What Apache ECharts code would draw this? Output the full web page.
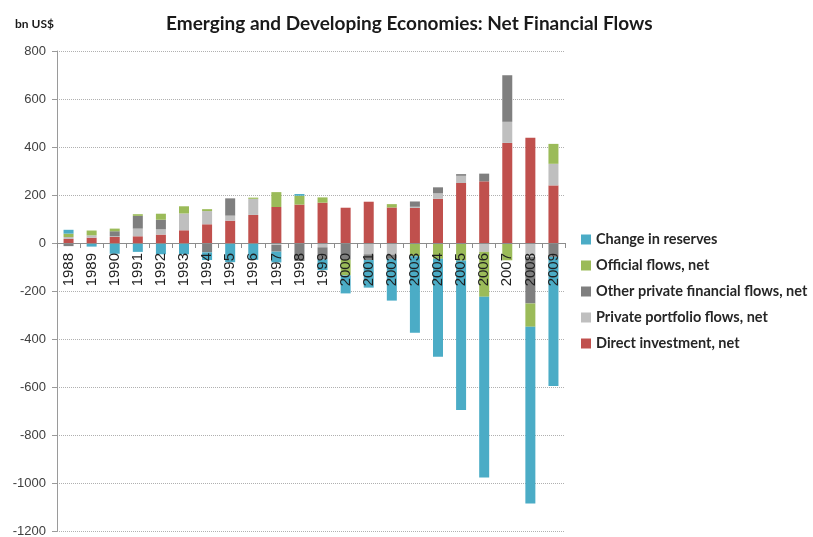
<!DOCTYPE html>
<html>
<head>
<meta charset="utf-8">
<script src="https://cdn.jsdelivr.net/npm/echarts@6/dist/echarts.min.js"></script>
<style>
  html, body { margin: 0; padding: 0; background: #fff; }
  #chart { width: 813px; height: 537px; }
</style>
</head>
<body>
<div id="chart"></div>
<script>
// Net financial flows of emerging and developing economies, bn US$
const years = ['1988','1989','1990','1991','1992','1993','1994','1995','1996','1997','1998',
               '1999','2000','2001','2002','2003','2004','2005','2006','2007','2008','2009'];

const directInvestment = [17, 22, 25, 28, 35, 53, 78, 93, 117, 150, 160,
                          168, 147, 172, 148, 146, 184, 250, 257, 417, 439, 240];
const portfolioFlows   = [8, 10, 3, 32, 22, 70, 55, 21, 67, -8, 0,
                          -18, 0, -47, -48, 5, 23, 30, -37, 88, -58, 90];
const otherPrivate     = [-13, 0, 21, 53, 40, 0, -39, 72, 0, -28, -75,
                          -50, -70, -24, -18, 22, 25, 7, 32, 194, -194, -58];
const officialFlows    = [14, 20, 11, 7, 25, 30, 8, 0, 5, 62, 37,
                          22, -65, 0, 14, -55, -66, -73, -187, -72, -97, 83];
const reserveChange    = [16, -15, -45, -37, -47, -47, -32, -80, -70, -45, 7,
                          -45, -75, -115, -174, -319, -408, -623, -753, null, -736, -538];

const yTicks = { min: -1200, max: 800, step: 200 };

const seriesDefs = [
  { name: 'Direct investment, net',            data: directInvestment, color: '#C0504D' },
  { name: 'Private portfolio flows, net',       data: portfolioFlows,   color: '#BFBFBF' },
  { name: 'Other private financial flows, net', data: otherPrivate,     color: '#7F7F7F' },
  { name: 'Official flows, net',                data: officialFlows,    color: '#9BBB59' },
  { name: 'Change in reserves',                 data: reserveChange,    color: '#4BACC6' }
];

const chart = echarts.init(document.getElementById('chart'), null, { renderer: 'canvas' });

chart.setOption({
  animation: false,
  backgroundColor: '#ffffff',
  title: [
    {
      text: 'Emerging and Developing Economies: Net Financial Flows',
      left: 161, top: 9,
      textStyle: { fontFamily: 'Lato', fontSize: 19, fontWeight: 'bold', color: '#1a1a1a' }
    },
    {
      text: 'bn US$',
      left: 10, top: 13,
      textStyle: { fontFamily: 'Lato', fontSize: 12, fontWeight: 'bold', color: '#1a1a1a' }
    }
  ],
  legend: {
    orient: 'vertical',
    left: 576, top: 227,
    itemWidth: 10, itemHeight: 10, itemGap: 11,
    icon: 'rect',
    data: ['Change in reserves', 'Official flows, net', 'Other private financial flows, net',
           'Private portfolio flows, net', 'Direct investment, net'],
    textStyle: { fontFamily: 'Lato', fontSize: 14.5, fontWeight: 'bold', color: '#262626' }
  },
  grid: { left: 57, right: 248, top: 51, bottom: 6, containLabel: false, outerBoundsMode: 'none' },
  xAxis: {
    type: 'category',
    data: years,
    z: 5,
    position: 'bottom',
    offset: 0,
    axisLine: { onZero: false, lineStyle: { color: '#8c8c8c', width: 1 } },
    axisTick: { show: true, length: 5, lineStyle: { color: '#8c8c8c' } },
    axisLabel: {
      rotate: 90, margin: 10, interval: 0,
      fontFamily: 'Liberation Sans', fontSize: 15, color: '#1f1f1f'
    }
  },
  yAxis: {
    type: 'value',
    min: yTicks.min, max: yTicks.max, interval: yTicks.step,
    axisLine: { show: true, onZero: false, lineStyle: { color: '#9a9a9a' } },
    axisTick: { show: true, length: 5, lineStyle: { color: '#9a9a9a' } },
    axisLabel: {
      margin: 11, fontFamily: 'Liberation Sans', fontSize: 13, color: '#404040',
      formatter: v => String(v)
    },
    splitLine: { show: true, lineStyle: { color: '#b0b0b0', type: 'dotted', width: 1 } }
  },
  series: seriesDefs.map(s => ({
    name: s.name,
    type: 'bar',
    stack: 'flows',
    barWidth: 10,
    data: s.data,
    itemStyle: { color: s.color }
  }))
});

// Keep the category axis on the zero line: shift it up from the grid bottom
// by the distance the value scale puts between its minimum and zero.
const zeroY = chart.convertToPixel({ yAxisIndex: 0 }, 0);
const floorY = chart.convertToPixel({ yAxisIndex: 0 }, yTicks.min);
if (Math.abs(zeroY - floorY) > 1) {
  chart.setOption({ xAxis: { offset: zeroY - floorY } });
}
</script>
</body>
</html>
